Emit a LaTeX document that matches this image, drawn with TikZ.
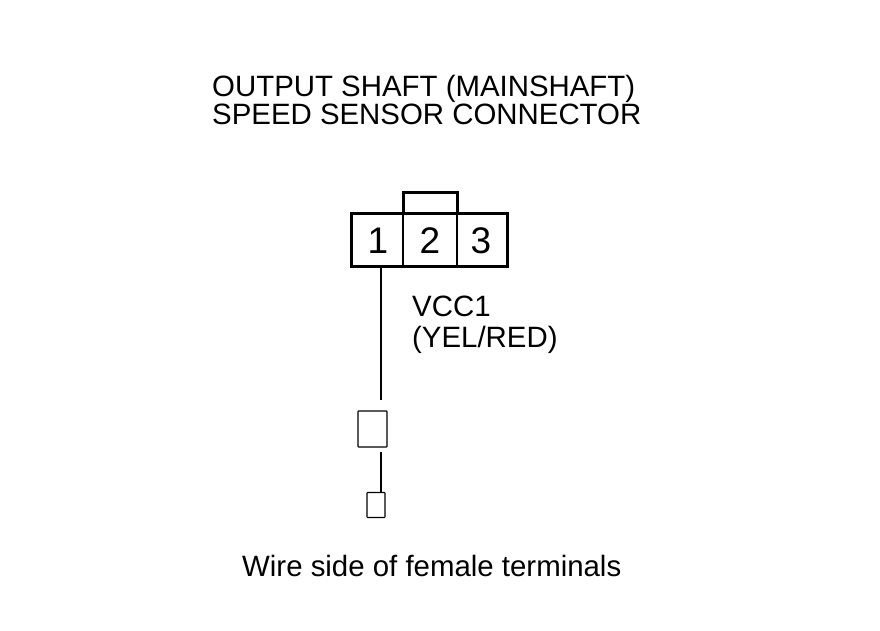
\documentclass[tikz,border=0pt]{standalone}
\usepackage{fontspec}
\setmainfont{Liberation Sans}
\tikzset{
	label/.style={inner sep=0, anchor=base west, font=\fontsize{29.4}{29.4}\selectfont},
	pin/.style={inner sep=0, font=\fontsize{37}{37}\selectfont},
	shell/.style={draw, line width=3pt, inner sep=0, minimum width=#1},
	wall/.style={line width=2pt},
	wire/.style={line width=2pt},
	term/.style={draw, line width=1.1pt, inner sep=0, rounded corners=0.6pt}
}
\begin{document}
\begin{tikzpicture}[x=1pt, y=-1pt]
	\useasboundingbox (0, 0) rectangle (880, 630);
	\node[label] (titleone) at (212, 96) {OUTPUT SHAFT (MAINSHAFT)};
	\node[label] (titletwo) at (212, 124) {SPEED SENSOR CONNECTOR};
	% connector body
	\node[shell=54pt, minimum height=22pt] (key) at (430, 203) {};
	\node[shell=156pt, minimum height=53pt, fill=white] (body) at (429.5, 239.5) {};
	\draw[wall] (403, 214) coordinate (wallat) -- (403, 265) coordinate (wallbt);
	\draw[wall] (457, 214) coordinate (wallct) -- (457, 265) coordinate (walldt);
	\node[pin] (pinone) at (378, 241) {1};
	\node[pin] (pintwo) at (430, 241) {2};
	\node[pin] (pinthree) at (481, 241) {3};
	% wire and terminals
	\node[term, minimum width=29pt, minimum height=36pt] (termone) at (372.5, 429) {};
	\node[term, minimum width=18pt, minimum height=25pt] (termtwo) at (376, 505) {};
	\coordinate (wirea) at (381, 266);
	\coordinate (wireb) at (381, 400);
	\coordinate (wirec) at (381, 452);
	\coordinate (wired) at (381, 492);
	\draw[wire] (wirea) -- (wireb);
	\draw[wire] (wirec) -- (wired);
	\node[label] (vcc) at (412, 316) {VCC1};
	\node[label] (color) at (412, 347) {(YEL/RED)};
	\node[label] (side) at (242, 576) {Wire side of female terminals};
\end{tikzpicture}
\end{document}
